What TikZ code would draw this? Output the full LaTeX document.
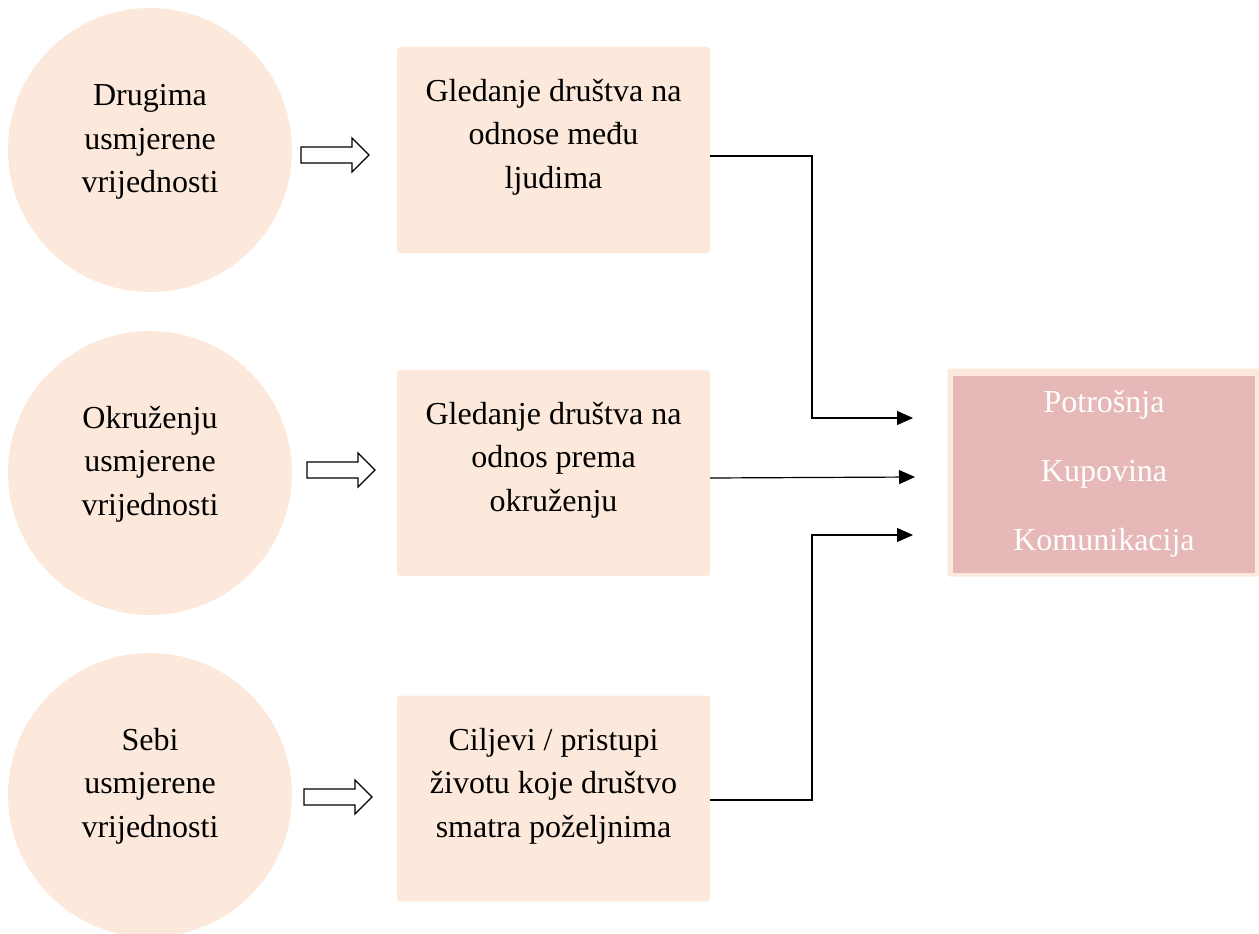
\documentclass[tikz,border=0pt]{standalone}
\usepackage{fontspec}
\setmainfont{Liberation Serif}
\usetikzlibrary{arrows.meta}
\definecolor{peach}{HTML}{FCE9DB}
\definecolor{rosy}{HTML}{E6B8B7}
\tikzset{
  valcircle/.style={circle, fill=peach, minimum size=284pt, inner sep=0pt},
  viewbox/.style={rectangle, rounded corners=3pt, fill=peach, minimum width=313pt, minimum height=206pt,
    inner sep=0pt},
  txt/.style={align=center, inner sep=0pt, font=\fontsize{32}{43.5}\selectfont},
  conn/.style={draw=black, line width=1.2pt, -{Triangle[length=16pt,width=14pt]}},
  hollow/.style={draw=black, line width=1.2pt, fill=white}
}
\newcommand{\blockarrow}[2]{% left x, center y
  \draw[hollow] (#1,#2-8) -- (#1+51,#2-8) -- (#1+51,#2-17) -- (#1+68,#2) -- (#1+51,#2+17) -- (#1+51,#2+8) -- (#1,#2+8) -- cycle;}
\begin{document}
\begin{tikzpicture}[x=1pt,y=-1pt]
\useasboundingbox (0,0) rectangle (1259,934);
\node[valcircle] (c1) at (150,150) {};
\node[valcircle] (c2) at (150,473) {};
\node[valcircle] (c3) at (150,795) {};
\node[txt] (t1) at (150,142) {Drugima\\usmjerene\\vrijednosti};
\node[txt] (t2) at (150,464) {Okruženju\\usmjerene\\vrijednosti};
\node[txt] (t3) at (150,786) {Sebi\\usmjerene\\vrijednosti};
\node[viewbox] (b1) at (553.5,150) {};
\node[viewbox] (b2) at (553.5,473) {};
\node[viewbox] (b3) at (553.5,798.5) {};
\node[txt] (s1) at (553.5,137) {Gledanje društva na\\odnose među\\ljudima};
\node[txt] (s2) at (553.5,460) {Gledanje društva na\\odnos prema\\okruženju};
\node[txt] (s3) at (553.5,786) {Ciljevi / pristupi\\životu koje društvo\\smatra poželjnima};
\node[rectangle, fill=peach, rounded corners=2pt, minimum width=312pt, minimum height=208pt, inner sep=0pt] (rout) at (1103.5,472.5) {};
\node[rectangle, fill=rosy, minimum width=302pt, minimum height=197pt, inner sep=0pt, align=center,
  text=white, font=\fontsize{32}{69}\selectfont] (r) at (1104,474) {Potrošnja\\Kupovina\\Komunikacija};
\blockarrow{301}{155}
\blockarrow{307}{470}
\blockarrow{304}{797}
\coordinate (e1) at (913,418);
\coordinate (e2) at (915,477);
\coordinate (e3) at (913,535);
\draw[conn] (b1.east |- 0,156) -- (812,156) -- (812,418) -- (e1);
\draw[conn] (b2.east |- 0,478) -- (e2);
\draw[conn] (b3.east |- 0,800) -- (812,800) -- (812,535) -- (e3);
\end{tikzpicture}
\end{document}
